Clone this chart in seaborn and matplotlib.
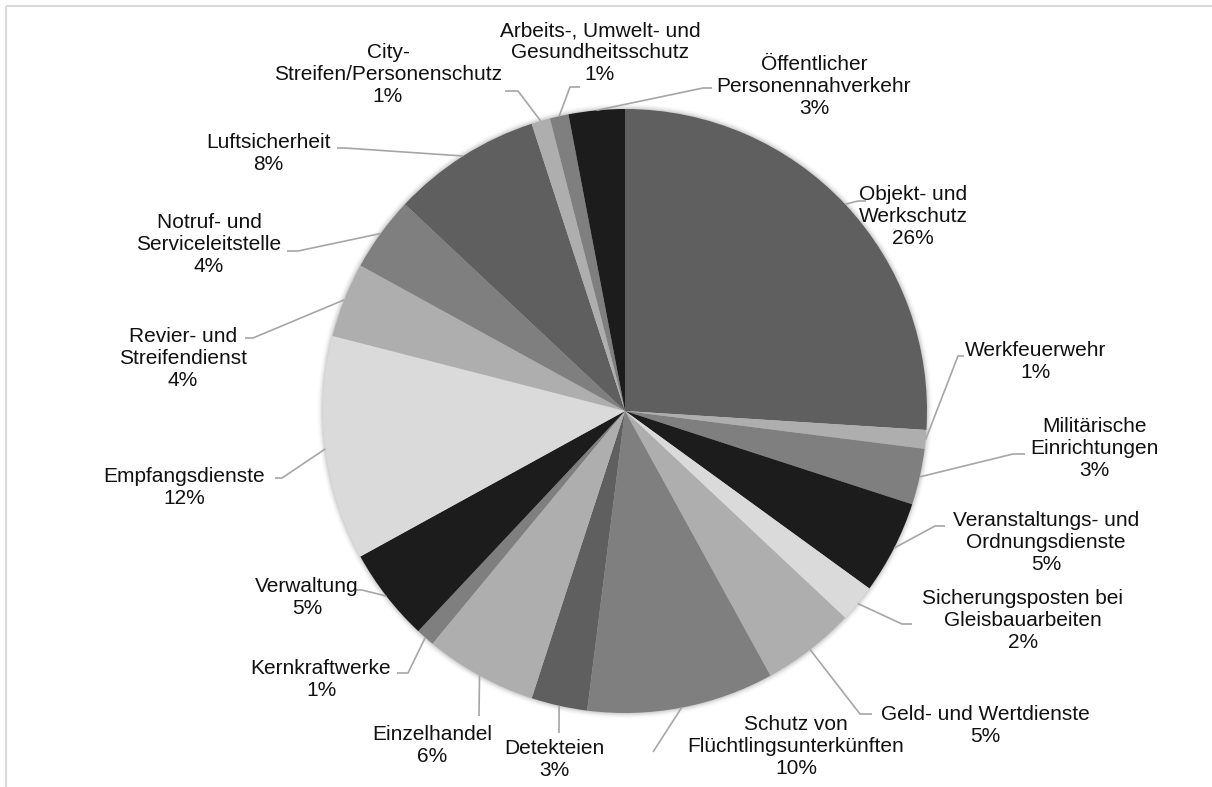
import matplotlib
matplotlib.use("Agg")
import matplotlib.pyplot as plt
from matplotlib.patches import Circle, Rectangle
import numpy as np
import seaborn as sns

# shares of the security services (clockwise from 12 o'clock)
categories = [
    "Objekt- und\nWerkschutz",
    "Werkfeuerwehr",
    "Militärische\nEinrichtungen",
    "Veranstaltungs- und\nOrdnungsdienste",
    "Sicherungsposten bei\nGleisbauarbeiten",
    "Geld- und Wertdienste",
    "Schutz von\nFlüchtlingsunterkünften",
    "Detekteien",
    "Einzelhandel",
    "Kernkraftwerke",
    "Verwaltung",
    "Empfangsdienste",
    "Revier- und\nStreifendienst",
    "Notruf- und\nServiceleitstelle",
    "Luftsicherheit",
    "City-\nStreifen/Personenschutz",
    "Arbeits-, Umwelt- und\nGesundheitsschutz",
    "Öffentlicher\nPersonennahverkehr",
]
shares = [26, 1, 3, 5, 2, 5, 10, 3, 6, 1, 5, 12, 4, 4, 8, 1, 1, 3]

# greys used by the slices
BLACK, DARK, MID, LIGHT, PALE = "#1c1c1c", "#5f5f5f", "#7f7f7f", "#aeaeae", "#dadada"
slice_colors = [DARK, LIGHT, MID, BLACK, PALE, LIGHT, MID, DARK, LIGHT, MID,
                BLACK, PALE, LIGHT, MID, DARK, LIGHT, MID, BLACK]

# label layout in pixels (text centre, leader elbow, leader end)
label_pos = [(913, 217), (1036, 361), (1094, 448), (1046, 543), (1023, 620),
             (985, 725), (796, 746), (554, 760), (432, 745), (321, 679),
             (307, 597), (184, 488), (183, 358), (209, 245), (268, 154),
             (388, 75), (600, 53), (814, 87)]
leader_pts = [((858, 201), (866, 201)), ((958, 356), (964, 356)),
              ((1013, 454), (1025, 454)), ((935, 526), (945, 526)),
              ((902, 624), (912, 624)), ((860, 714), (872, 714)),
              ((653, 752), (653, 752)), ((559, 733), (559, 733)),
              ((479, 716), (479, 716)), ((408, 673), (397, 673)),
              ((362, 590), (355, 590)), ((282, 478), (275, 478)),
              ((253, 338), (245, 338)), ((298, 251), (287, 251)),
              ((345, 148), (337, 148)), ((518, 91), (505, 91)),
              ((570, 87), (580, 87)), ((703, 88), (712, 88))]

W, H = 1212, 787
cx, cy, r = 625, 411, 302

sns.set_theme(style="white")
plt.rcParams['font.family'] = ['Liberation Sans', 'DejaVu Sans']

fig = plt.figure(figsize=(W / 100, H / 100), dpi=100)
ax = fig.add_axes([0, 0, 1, 1])

# soft halo round the pie
for k in range(1, 7):
    ax.add_patch(Circle((cx, cy), r + k, color="#000000", alpha=0.05 * (7 - k) / 6,
                        lw=0, zorder=0))

# y axis runs downwards, so counterclockwise in data is clockwise on screen
wedges, _ = ax.pie(shares, colors=slice_colors, startangle=270, counterclock=True,
                   center=(cx, cy), radius=r, wedgeprops=dict(linewidth=0))
for w in wedges:
    w.set_zorder(2)

for w, name, val, (tx, ty), (elbow, end) in zip(wedges, categories, shares,
                                                 label_pos, leader_pts):
    mid = np.deg2rad((w.theta1 + w.theta2) / 2)
    sx, sy = cx + r * np.cos(mid), cy + r * np.sin(mid)
    ax.plot([sx, elbow[0], end[0]], [sy, elbow[1], end[1]], color="#a6a6a6",
            lw=1.2, zorder=3, solid_capstyle="butt")
    ax.text(tx, ty, f"{name}\n{val}%", ha="center", va="center", ma="center",
            fontsize=15, color="#111111", linespacing=1.2, zorder=4)

# chart frame (only top and left edges fall inside the picture)
ax.add_patch(Rectangle((6, 6), W + 20, H + 20, fill=False, ec="#d9d9d9", lw=1.5,
                       zorder=1))

ax.set_xlim(0, W)
ax.set_ylim(H, 0)
ax.set_aspect("equal")
ax.axis("off")

fig.savefig("out.png", dpi=100, facecolor="white")
